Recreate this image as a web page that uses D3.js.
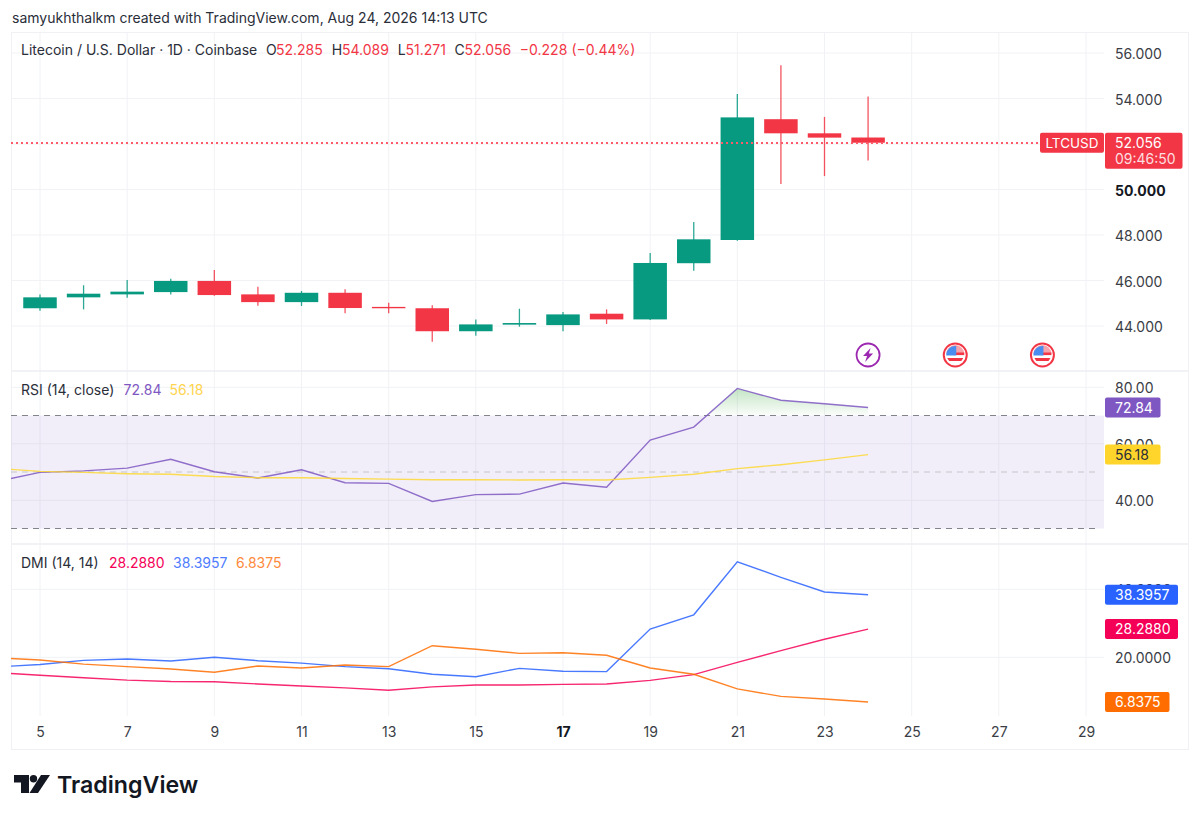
<!DOCTYPE html>
<html>
<head>
<meta charset="utf-8">
<script src="https://cdn.jsdelivr.net/npm/d3@7"></script>
<style>
  body { margin: 0; background: #fff; }
  svg { display: block; font-family: Inter, "Noto Sans", sans-serif; }
  .axis text { font-family: Inter, "Noto Sans", sans-serif; font-size: 14px; fill: #3a3d45; }
  .axis .domain, .axis line { display: none; }
</style>
</head>
<body>
<div id="chart"></div>
<script>
// candles, one per day of August
const candleDays = [5, 6, 7, 8, 9, 10, 11, 12, 13, 14, 15, 16, 17, 18, 19, 20, 21, 22, 23, 24];
const opens  = [44.78, 45.26, 45.39, 45.49, 45.98, 45.39, 45.05, 45.46, 44.84, 44.78, 43.77, 44.06, 44.04, 44.54, 44.29, 46.76, 47.78, 53.09, 52.47, 52.285];
const highs  = [45.39, 45.79, 46.02, 46.08, 46.46, 45.73, 45.54, 45.61, 45.02, 44.91, 44.29, 44.76, 44.62, 44.73, 47.21, 48.57, 54.20, 55.46, 53.19, 54.089];
const lows   = [44.67, 44.73, 45.24, 45.39, 45.33, 44.89, 44.88, 44.56, 44.56, 43.31, 43.57, 43.97, 43.77, 44.09, 44.26, 46.43, 47.75, 50.24, 50.59, 51.271];
const closes = [45.26, 45.42, 45.51, 45.98, 45.36, 45.05, 45.46, 44.79, 44.78, 43.77, 44.07, 44.13, 44.51, 44.29, 46.77, 47.81, 53.17, 52.47, 52.28, 52.056];

// indicator lines start one day earlier, that point is cut by the pane edge
const lineDays = [4, 5, 6, 7, 8, 9, 10, 11, 12, 13, 14, 15, 16, 17, 18, 19, 20, 21, 22, 23, 24];
const rsi    = [46.6, 49.9, 50.4, 51.4, 54.5, 50.1, 47.9, 50.8, 46.2, 46.0, 39.6, 42.0, 42.2, 46.1, 44.6, 61.3, 65.9, 79.6, 75.4, 74.2, 72.84];
const rsiMa  = [51.3, 50.25, 49.9, 49.4, 49.2, 48.4, 48.0, 48.0, 47.7, 47.5, 47.3, 47.3, 47.2, 47.3, 47.2, 48.1, 49.2, 51.2, 52.6, 54.3, 56.18];
const adx    = [15.5, 14.7, 14.0, 13.3, 12.9, 12.8, 12.15, 11.56, 11.0, 10.3, 11.3, 11.85, 11.85, 12.05, 12.15, 13.2, 14.9, 18.5, 21.95, 25.3, 28.288];
const diPlus = [17.15, 17.9, 19.1, 19.5, 18.9, 20.0, 19.0, 18.3, 17.25, 16.65, 15.0, 14.3, 16.75, 15.9, 15.8, 28.3, 32.5, 48.1, 43.5, 39.2, 38.3957];
const diMinus = [19.9, 19.2, 18.0, 17.25, 16.55, 15.6, 17.45, 16.85, 17.75, 17.25, 23.4, 22.35, 21.15, 21.35, 20.6, 16.85, 15.0, 10.7, 8.5, 7.75, 6.8375];

const dayTicks = [5, 7, 9, 11, 13, 15, 17, 19, 21, 23, 25, 27, 29];
const priceGrid = [44, 46, 48, 50, 52, 54, 56];
const priceTicks = [44, 46, 48, 50, 54, 56]; // 52 sits under the last price label
const rsiTicks = [40, 60, 80];
const dmiTicks = [20, 40];
const rsiBands = [30, 50, 70];
const eventDays = [24, 26, 28];

const GREEN = "#089981", RED = "#F23645", GRID = "#f1f2f5";
const PURPLE = "#7E57C2", YELLOW = "#FDD835", PINK = "#F50057", BLUE = "#2962FF", ORANGE = "#FF6D00";

const paneLeft = 11, paneRight = 1104, outer = 1188, paneTop = 32, frameBottom = 749;
const priceBottom = 371, rsiBottom = 544, dmiBottom = 716;

const svg = d3.select("#chart").append("svg").attr("width", 1200).attr("height", 819);

const x = d3.scaleLinear().domain([5, 29]).range([40, 1086]);
const yPrice = d3.scaleLinear().domain([44, 56]).range([326, 53]);
const yRsi = d3.scaleLinear().domain([40, 80]).range([500.3, 387.3]);
const yDmi = d3.scaleLinear().domain([20, 40]).range([657.3, 589.3]);

svg.append("clipPath").attr("id", "pane")
  .append("rect").attr("x", paneLeft).attr("y", paneTop).attr("width", paneRight - paneLeft).attr("height", dmiBottom - paneTop);
svg.append("clipPath").attr("id", "overbought")
  .append("rect").attr("x", paneLeft).attr("y", priceBottom).attr("width", paneRight - paneLeft).attr("height", yRsi(70) - priceBottom);

// --- frame and grid ---
const grid = svg.append("g").attr("stroke", GRID).attr("stroke-width", 1);
grid.selectAll("line.v").data(dayTicks).join("line").attr("class", "v")
  .attr("x1", d => x(d)).attr("x2", d => x(d)).attr("y1", paneTop).attr("y2", dmiBottom);
const hLines = [...priceGrid.map(d => yPrice(d)), ...rsiTicks.map(d => yRsi(d)), ...dmiTicks.map(d => yDmi(d))];
grid.selectAll("line.h").data(hLines).join("line").attr("class", "h")
  .attr("x1", paneLeft).attr("x2", paneRight).attr("y1", d => d).attr("y2", d => d);
grid.selectAll("line.sep").data([priceBottom, rsiBottom]).join("line").attr("class", "sep")
  .attr("x1", paneLeft).attr("x2", outer).attr("y1", d => d).attr("y2", d => d)
  .attr("stroke", "#eceef2").attr("stroke-width", 1.5);
svg.append("rect").attr("x", paneLeft + 0.5).attr("y", paneTop + 0.5)
  .attr("width", outer - paneLeft).attr("height", frameBottom - paneTop)
  .attr("fill", "none").attr("stroke", "#f0f1f4");

// --- candles ---
const candles = candleDays.map((d, i) => ({ day: d, o: opens[i], h: highs[i], l: lows[i], c: closes[i] }));
const bodyW = 33.5;
const candle = svg.append("g").selectAll("g").data(candles).join("g");
candle.append("line")
  .attr("x1", d => x(d.day)).attr("x2", d => x(d.day))
  .attr("y1", d => yPrice(d.h)).attr("y2", d => yPrice(d.l))
  .attr("stroke", d => d.c >= d.o ? GREEN : RED).attr("stroke-width", 1.3).attr("stroke-opacity", 0.85);
candle.append("rect")
  .attr("x", d => x(d.day) - bodyW / 2).attr("width", bodyW)
  .attr("y", d => yPrice(Math.max(d.o, d.c)))
  .attr("height", d => Math.max(1, Math.abs(yPrice(d.o) - yPrice(d.c))))
  .attr("fill", d => d.c >= d.o ? GREEN : RED);

const last = candles[candles.length - 1];
const yDotted = Math.round(yPrice(last.c));
svg.append("line")
  .attr("x1", paneLeft).attr("x2", 1040).attr("y1", yDotted).attr("y2", yDotted)
  .attr("stroke", "#ff5a6a").attr("stroke-width", 2).attr("stroke-dasharray", "2 3");

// --- event markers ---
const yEvent = 355;
eventDays.forEach((d, i) => {
  const g = svg.append("g").attr("transform", `translate(${x(d)},${yEvent})`);
  if (i === 0) {
    g.append("circle").attr("r", 11.5).attr("fill", "#fff").attr("stroke", "#9C27B0").attr("stroke-width", 1.8);
    g.append("path").attr("d", "M2.5,-7 L-5,1 L-1,1 L-3,7 L5,-1.5 L0.8,-1.5 Z").attr("fill", "#9C27B0");
  } else {
    g.append("circle").attr("r", 11.5).attr("fill", "#fff").attr("stroke", RED).attr("stroke-width", 2);
    g.append("path").attr("d", "M-9,-1 A9,9 0 0 1 9,-1 Z").attr("fill", "#f7a3ab");
    g.append("rect").attr("x", -2).attr("y", -2.5).attr("width", 11).attr("height", 2.6).attr("fill", RED);
    g.append("path").attr("d", "M-8,3 H8 A9,9 0 0 1 6,6 H-6 A9,9 0 0 1 -8,3 Z").attr("fill", RED);
    g.append("path").attr("d", "M-9,0.5 V-1 A9,9 0 0 1 0,-9 H1 V0.5 Z").attr("fill", "#4a8df0");
  }
});

// --- RSI pane ---
svg.append("rect")
  .attr("x", paneLeft).attr("width", paneRight - paneLeft)
  .attr("y", yRsi(70)).attr("height", yRsi(30) - yRsi(70))
  .attr("fill", PURPLE).attr("fill-opacity", 0.1);

svg.selectAll("line.band").data(rsiBands).join("line").attr("class", "band")
  .attr("x1", paneLeft).attr("x2", 1100).attr("y1", d => yRsi(d)).attr("y2", d => yRsi(d))
  .attr("stroke", d => d === 50 ? "#c4c5ca" : "#82848c")
  .attr("stroke-dasharray", "6 5").attr("stroke-width", 1.1);

const grad = svg.append("linearGradient").attr("id", "obFill")
  .attr("gradientUnits", "userSpaceOnUse")
  .attr("x1", 0).attr("x2", 0).attr("y1", yRsi(80)).attr("y2", yRsi(70));
grad.append("stop").attr("offset", 0).attr("stop-color", "#4CAF50").attr("stop-opacity", 0.35);
grad.append("stop").attr("offset", 1).attr("stop-color", "#4CAF50").attr("stop-opacity", 0.02);

svg.append("path")
  .datum(rsi)
  .attr("clip-path", "url(#overbought)")
  .attr("fill", "url(#obFill)")
  .attr("d", d3.area().x((d, i) => x(lineDays[i])).y0(yRsi(70)).y1(d => yRsi(d)));

function drawLine(values, yScale, color) {
  svg.append("path")
    .datum(values)
    .attr("clip-path", "url(#pane)")
    .attr("fill", "none")
    .attr("stroke", color)
    .attr("stroke-width", 1.4)
    .attr("stroke-opacity", 0.85)
    .attr("d", d3.line().x((d, i) => x(lineDays[i])).y(d => yScale(d)));
}
drawLine(rsi, yRsi, PURPLE);
drawLine(rsiMa, yRsi, YELLOW);

// --- DMI pane ---
drawLine(adx, yDmi, PINK);
drawLine(diPlus, yDmi, BLUE);
drawLine(diMinus, yDmi, ORANGE);

// --- axes ---
function yAxis(scale, ticks, fmt) {
  const g = svg.append("g").attr("class", "axis").attr("transform", `translate(${paneRight},0)`)
    .call(d3.axisRight(scale).tickValues(ticks).tickSize(0).tickPadding(11).tickFormat(d3.format(fmt)));
  g.selectAll(".domain").remove();
  g.selectAll(".tick text").attr("dy", "0.4em");
  return g;
}
const priceAxis = yAxis(yPrice, priceTicks, ".3f");
priceAxis.selectAll(".tick text").filter(d => d === 50)
  .style("font-weight", 700).style("fill", "#131722");
yAxis(yRsi, rsiTicks, ".2f");
yAxis(yDmi, dmiTicks, ".4f");

const timeAxis = svg.append("g").attr("class", "axis").attr("transform", "translate(0,723.5)")
  .call(d3.axisBottom(x).tickValues(dayTicks).tickSize(0).tickPadding(4).tickFormat(d3.format("d")));
timeAxis.selectAll(".domain").remove();
timeAxis.selectAll(".tick text").filter(d => d === 17)
  .style("font-weight", 700).style("fill", "#131722");

// --- last value labels on the price scale ---
function valueLabel(value, yScale, color, w, fmt, textColor) {
  const yy = yScale(value);
  svg.append("rect").attr("x", 1105).attr("y", yy - 10).attr("width", w).attr("height", 20).attr("rx", 2).attr("fill", color);
  svg.append("text").attr("x", 1115).attr("y", yy).attr("dy", "0.36em")
    .attr("font-size", 14).attr("fill", textColor || "#fff").text(d3.format(fmt)(value));
}
const lastRsi = rsi[rsi.length - 1], lastMa = rsiMa[rsiMa.length - 1];
valueLabel(lastRsi, yRsi, PURPLE, 55.5, ".2f");
valueLabel(lastMa, yRsi, "#FFD52B", 55.5, ".2f", "#2a2e39");
valueLabel(diPlus[diPlus.length - 1], yDmi, BLUE, 73, ".4f");
valueLabel(adx[adx.length - 1], yDmi, PINK, 73, ".4f");
valueLabel(diMinus[diMinus.length - 1], yDmi, ORANGE, 64.5, ".4f");

const yLast = yPrice(last.c);
svg.append("rect").attr("x", 1040).attr("y", yLast - 10).attr("width", 64).attr("height", 20).attr("rx", 2).attr("fill", RED);
svg.append("text").attr("x", 1072).attr("y", yLast).attr("dy", "0.36em").attr("text-anchor", "middle")
  .attr("font-size", 13.5).attr("fill", "#fff").text("LTCUSD");
svg.append("rect").attr("x", 1105).attr("y", yLast - 10).attr("width", 77.5).attr("height", 36).attr("rx", 2).attr("fill", RED);
svg.append("text").attr("x", 1115).attr("y", yLast).attr("dy", "0.36em")
  .attr("font-size", 14).attr("fill", "#fff").text(d3.format(".3f")(last.c));
svg.append("text").attr("x", 1115).attr("y", yLast + 16).attr("dy", "0.36em")
  .attr("font-size", 14).attr("fill", "#fff").attr("fill-opacity", 0.85).text("09:46:50");

// --- texts ---
function textRow(y, parts) {
  parts.forEach(([px, str, color]) => {
    svg.append("text").attr("x", px).attr("y", y).attr("dy", "0.36em")
      .attr("font-size", 14).attr("fill", color).text(str);
  });
}
const INK = "#2a2e39";
svg.append("text").attr("x", 12).attr("y", 18).attr("dy", "0.36em")
  .attr("font-size", 14).attr("fill", "#2a2e39")
  .text("samyukhthalkm created with TradingView.com, Aug 24, 2026 14:13 UTC");

const f3 = d3.format(".3f");
textRow(50, [
  [21, "Litecoin / U.S. Dollar · 1D · Coinbase", INK],
  [266, "O", INK], [276, f3(last.o), RED],
  [331.7, "H", INK], [342, f3(last.h), RED],
  [397.7, "L", INK], [405.5, f3(last.l), RED],
  [454.5, "C", INK], [464.5, f3(last.c), RED],
  [519.8, "−0.228", RED], [571.5, "(−0.44%)", RED]
]);
textRow(390, [
  [21, "RSI (14, close)", INK],
  [123.6, d3.format(".2f")(lastRsi), PURPLE],
  [169.5, d3.format(".2f")(lastMa), "#FFD54F"]
]);
textRow(563, [
  [21, "DMI (14, 14)", INK],
  [109, d3.format(".4f")(adx[adx.length - 1]), PINK],
  [173, d3.format(".4f")(diPlus[diPlus.length - 1]), "#4f7dff"],
  [236, d3.format(".4f")(diMinus[diMinus.length - 1]), "#ff8a3c"]
]);

// --- TradingView logo ---
const logo = svg.append("g").attr("fill", "#131722");
logo.append("path").attr("d", "M14,775 H29 V793 H21 V782.5 H14 Z");
logo.append("circle").attr("cx", 33.5).attr("cy", 778.7).attr("r", 3.7);
logo.append("path").attr("d", "M41,775 H50 L38,793 H29.5 Z");
svg.append("text").attr("x", 57).attr("y", 785).attr("dy", "0.36em")
  .attr("font-size", 23.2).attr("font-weight", 600).attr("fill", "#131722").text("TradingView");
</script>
</body>
</html>
